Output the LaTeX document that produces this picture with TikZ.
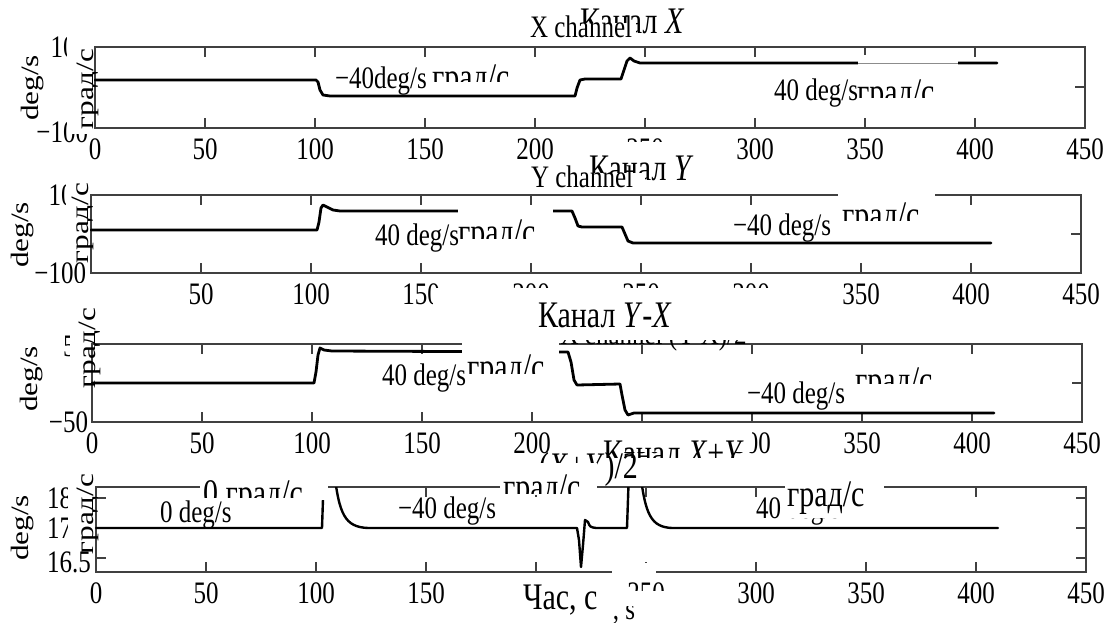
\documentclass[tikz,border=0pt]{standalone}
\usepackage{fontspec}
\setmainfont{Liberation Serif}
\usepackage{graphicx}
\newcommand\T[1]{\scalebox{1}[1.25]{#1}}
\newcommand\R[1]{\scalebox{1.25}[1]{#1}}
\newcommand\mkpanel[4]{%
 \draw[frm] (#1,#2) rectangle (#1+990,#3);
 \foreach \vv in {50,100,...,400}{\draw[frm] (#1+2.2*\vv,#2) -- ++(0,10) (#1+2.2*\vv,#3) -- ++(0,-10);}
 \foreach \vv in {0,50,...,450}{\node[lab] (#4\vv) at (#1+2.2*\vv,#3+21) {\T{\vv}};}
}
\newcommand\rclip[5]{%
 \begin{scope}\clip (#1-2,0) rectangle (#1+200,#3);
 \node[rlab,anchor=base west] (#5) at (#1,#2) {\T{#4}};
 \end{scope}}
\begin{document}
\begin{tikzpicture}[x=1pt,y=-1pt,
 frm/.style={line width=1.3pt,black!75},
 crv/.style={line width=2.8pt,line join=round,line cap=round},
 lab/.style={inner sep=0pt,outer sep=0pt,font=\fontsize{25}{30}\selectfont},
 rlab/.style={inner sep=0pt,outer sep=0pt,font=\fontsize{30}{36}\selectfont},
 msk/.style={fill=white,draw=none}]
\useasboundingbox (0,0) rectangle (1105,622);

% ===== Panel 1
\mkpanel{95}{47}{128}{a}
\draw[frm] (1085,87) -- ++(-10,0);
\draw[crv] (95,80) -- (316,80) -- (318,82) -- (320,90) -- (323,95) -- (330,96) -- (575,96) -- (577,88) -- (580,80) -- (585,79) -- (621,79) -- (624,70) -- (627,61) -- (630,58) -- (634,61) -- (640,63) -- (997,63);
\node[lab,anchor=base west] (a1) at (335,88) {\T{−40deg/s}};
\node[lab,anchor=base west] (a2) at (774,100) {\T{40 deg/s}};
\node[lab,rotate=90,anchor=base] (a3) at (38,88) {\R{deg/s}};
\node[lab,anchor=base east] (a4) at (88,57) {\T{100}};
\node[lab,anchor=base east] (a5) at (88,142) {\T{−100}};

% ===== Panel 2
\mkpanel{91}{195}{273}{b}
\draw[frm] (1081,234) -- ++(-10,0);
\draw[crv] (91,230) -- (317,230) -- (319,222) -- (321,208) -- (323,205) -- (327,207) -- (333,210) -- (340,211) -- (572,211) -- (575,218) -- (578,226) -- (582,227) -- (622,227) -- (625,234) -- (628,241) -- (633,243) -- (991,243);
\node[lab,anchor=base west] (b1) at (375,245) {\T{40 deg/s}};
\node[lab,anchor=base west] (b2) at (733,235) {\T{−40 deg/s}};
\node[lab,rotate=90,anchor=base] (b3) at (28,235) {\R{deg/s}};
\node[lab,anchor=base east] (b4) at (86,205) {\T{100}};
\node[lab,anchor=base east] (b5) at (86,283) {\T{−100}};

% ===== Panel 3
\mkpanel{92}{344}{422}{c}
\draw[frm] (1082,383) -- ++(-10,0);
\draw[crv] (92,383) -- (314,383) -- (316,372) -- (318,355) -- (320,348) -- (324,350) -- (332,351) -- (568,352) -- (571,362) -- (574,380) -- (577,385) -- (620,384) -- (622,395) -- (625,410) -- (628,415) -- (634,413) -- (994,413);
\node[lab,anchor=base west] (c0) at (537,344) {\T{Y-X channel (Y-X)/2}};
\node[lab,anchor=base west] (c1) at (382,385) {\T{40 deg/s}};
\node[lab,anchor=base west] (c2) at (747,403) {\T{−40 deg/s}};
\node[lab,rotate=90,anchor=base] (c3) at (37,379) {\R{deg/s}};
\node[lab,anchor=base east] (c4) at (88,356) {\T{50}};
\node[lab,anchor=base east] (c5) at (88,432) {\T{−50}};

% ===== Panel 4
\mkpanel{96}{487}{572}{d}
\foreach \yy in {498,528,558}{\draw[frm] (96,\yy) -- ++(10,0) (1086,\yy) -- ++(-10,0);}
\begin{scope}
\clip (90,487.5) rectangle (1090,580);
\draw[crv,line width=2.4pt] (96,528) -- (322,528) -- (324,470) -- (334,470) .. controls (339,515) and (345,527) .. (368,528) -- (577,528) -- (579,540) -- (581,567) -- (583,545) -- (585,520) -- (588,522) .. controls (590,527) .. (596,528) -- (627,528) -- (629,470) -- (640,470) .. controls (645,515) and (651,527) .. (672,528) -- (998,528);
\end{scope}
\node[rlab,anchor=base west] (d0) at (539,478) {\T{(\textit{X}+\textit{Y})/2}};
\node[lab,anchor=base west] (d1) at (160,522) {\T{0 deg/s}};
\node[lab,anchor=base west] (d2) at (398,518) {\T{−40 deg/s}};
\node[lab,anchor=base west] (d3) at (756,518) {\T{40 deg/s}};
\node[lab,rotate=90,anchor=base] (d4) at (28,528) {\R{deg/s}};
\node[lab,anchor=base west] (d5) at (47,508) {\T{18}};
\node[lab,anchor=base west] (d6) at (47,538) {\T{17}};
\node[lab,anchor=base west] (d7) at (47,572) {\T{16.5}};
\node[lab,anchor=base west] (d8) at (561,619) {\T{Time, s}};

% ===== masks (white label boxes)
\fill[msk] (67,30) rectangle (94,134);
\fill[msk] (858,55) rectangle (958,71);
\fill[msk] (560,142) rectangle (705,192);
\fill[msk] (66,180) rectangle (90,258);
\fill[msk] (458,206) rectangle (553,231);
\fill[msk] (838,186) rectangle (935,206);
\fill[msk] (78,283) rectangle (104,312);
\fill[msk] (433,288) rectangle (830,340);
\fill[msk] (70,318) rectangle (91,405);
\fill[msk] (462,334) rectangle (559,360);
\fill[msk] (575,428) rectangle (752,452);
\fill[msk] (200,476) rectangle (328,500);
\fill[msk] (500,463) rectangle (597,495);
\fill[msk] (785,475) rectangle (884,518);
\fill[msk] (68,478) rectangle (94,549);
\fill[msk] (612,563) rectangle (656,581);
\fill[msk] (612,591) rectangle (672,606);
\fill[msk] (505,580) rectangle (612,622);
\draw[line width=0.6pt,black!45] (858,63) -- (958,63);

% ===== Russian labels
\node[rlab,anchor=base west] (a6) at (580,33) {\T{Канал \textit{X}}};
\fill[msk] (528,23) rectangle (636,40);
\node[lab,anchor=base west] (a7) at (530,37) {\T{X channel}};
\rclip{432}{89}{81}{град/с}{a8}
\rclip{857}{104}{97}{град/с}{a9}
\node[lab,rotate=90,anchor=base] (a10) at (93,89) {\R{град/с}};

\node[rlab,anchor=base west] (b6) at (589,180) {\T{Канал \textit{Y}}};
\fill[msk] (529,173) rectangle (645,192);
\node[lab,anchor=base west] (b7) at (531,187) {\T{Y channel}};
\rclip{458}{244}{238}{град/с}{b8}
\rclip{842}{227}{220}{град/с}{b9}
\node[lab,rotate=90,anchor=base] (b10) at (88,223) {\R{град/с}};

\node[rlab,anchor=base west] (c6) at (538,327) {\T{Канал \textit{Y}-\textit{X}}};
\rclip{467}{379}{373}{град/с}{c8}
\rclip{855}{392}{383}{град/с}{c9}
\node[lab,rotate=90,anchor=base] (c10) at (95,348) {\R{град/с}};

\rclip{603}{465}{457}{Канал \textit{X}+\textit{Y}}{d9}
\rclip{203}{505}{497}{0 град/с}{d10}
\rclip{503}{499}{493}{град/с}{d11}
\node[rlab,anchor=base west] (d12) at (787,506) {\T{град/с}};
\node[lab,rotate=90,anchor=base] (d13) at (93,514) {\R{град/с}};
\node[rlab,anchor=base west] (d14) at (523,609) {\T{Час, с}};
\end{tikzpicture}
\end{document}
